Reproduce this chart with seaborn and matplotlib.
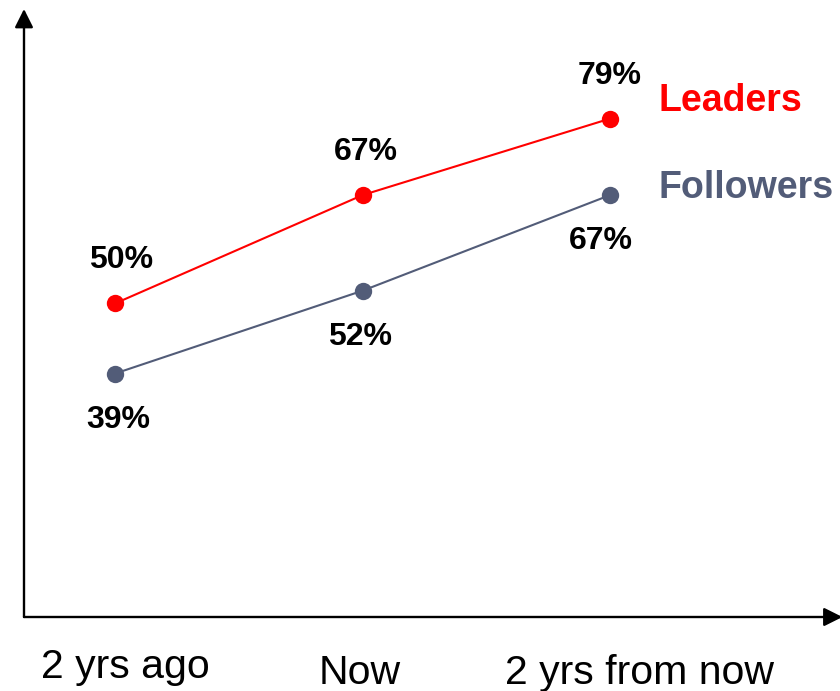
import matplotlib
matplotlib.use("Agg")
import matplotlib.pyplot as plt
import seaborn as sns
import pandas as pd

periods = ["2 yrs ago", "Now", "2 yrs from now"]
leaders = [50, 67, 79]
followers = [39, 52, 67]
series_names = ["Leaders", "Followers"]
colors = {"Leaders": "#FF0000", "Followers": "#525C78"}

sns.set_style("white")
plt.rcParams["font.family"] = ["Liberation Sans", "DejaVu Sans"]

df = pd.DataFrame({
    "period": periods * 2,
    "value": leaders + followers,
    "series": ["Leaders"] * 3 + ["Followers"] * 3,
})

W, H = 840, 691
fig = plt.figure(figsize=(W / 100, H / 100), dpi=100)
ax = fig.add_axes([24 / W, (H - 617) / H, (W - 24) / W, (617 - 9) / H])

sns.lineplot(data=df, x="period", y="value", hue="series", palette=colors,
             marker="o", markersize=12.5, markeredgewidth=0, linewidth=1.5,
             legend=False, ax=ax, sort=False)

ax.set_xlim(-0.368, 2.929)
ax.set_ylim(0.8, 96.2)
for s in ax.spines.values():
    s.set_visible(False)
ax.set_xticks([])
ax.set_yticks([])
ax.set_xlabel("")
ax.set_ylabel("")

# axis arrows
arrow = dict(arrowstyle="-|>,head_length=0.8,head_width=0.4", color="black",
             lw=1.7, mutation_scale=14, shrinkA=0, shrinkB=0)
ax.annotate("", xy=(0, 1), xytext=(0, 0), xycoords="axes fraction",
            arrowprops=arrow, annotation_clip=False)
ax.annotate("", xy=(1.003, 0), xytext=(0, 0), xycoords="axes fraction",
            arrowprops=arrow, annotation_clip=False)

# data labels
for i, v in enumerate(leaders):
    ax.annotate(f"{v}%", xy=(i, v), xytext=(6 - 3 * i, 43), textcoords="offset pixels",
                ha="center", va="center", fontsize=23, fontweight="bold", color="black")
for i, v in enumerate(followers):
    ax.annotate(f"{v}%", xy=(i, v), xytext=(3 - 6 * i, -46), textcoords="offset pixels",
                ha="center", va="center", fontsize=23, fontweight="bold", color="black")

# series labels
ax.annotate(series_names[0], xy=(2, leaders[-1]), xytext=(48, 18), textcoords="offset pixels",
            ha="left", va="center", fontsize=27, fontweight="bold", color=colors["Leaders"],
            annotation_clip=False)
ax.annotate(series_names[1], xy=(2, followers[-1]), xytext=(48, 7), textcoords="offset pixels",
            ha="left", va="center", fontsize=27, fontweight="bold", color=colors["Followers"],
            annotation_clip=False)

# category labels
offsets = [(10, -61), (-3, -67), (29, -67)]
for i, (p, (dx, dy)) in enumerate(zip(periods, offsets)):
    ax.annotate(p, xy=(i, 0), xycoords=ax.get_xaxis_transform(), xytext=(dx, dy),
                textcoords="offset pixels", ha="center", va="baseline",
                fontsize=29.5, color="black", annotation_clip=False)

fig.savefig("out.png", dpi=100)
